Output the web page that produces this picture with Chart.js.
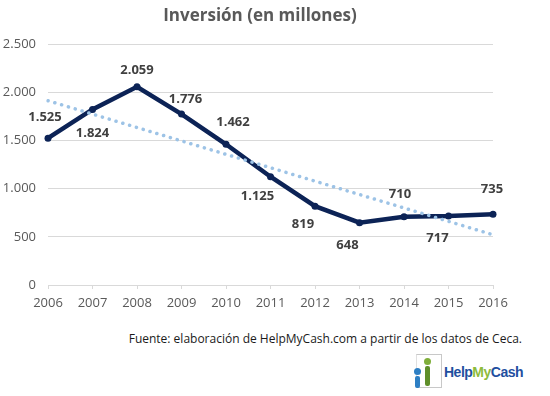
<!DOCTYPE html>
<html>
<head>
<meta charset="utf-8">
<script src="https://cdn.jsdelivr.net/npm/chart.js@4"></script>
<style>
  body { margin: 0; background: #fff; width: 550px; height: 396px; position: relative; overflow: hidden; }
  #wrap { position: absolute; left: 0; top: 0; width: 520px; height: 320px; }
  #footer { position: absolute; right: 28px; top: 330px; font: 12px "Open Sans", sans-serif; color: #1a1a1a; white-space: nowrap; }
  #logo { position: absolute; left: 414px; top: 354px; width: 115px; height: 36px; }
  #logo .box { position: absolute; left: 2px; top: 0; width: 24px; height: 32px; border: 1px solid #c8c8c8; border-left-color: #e0e0e0; }
  #logo .p1 { position: absolute; left: 0; top: 14px; width: 7px; height: 7px; border-radius: 50%; background: #2d7fc4; }
  #logo .b1 { position: absolute; left: 1px; top: 22px; width: 5px; height: 12px; background: #2d7fc4; border-radius: 2px; }
  #logo .p2 { position: absolute; left: 10px; top: 4px; width: 7px; height: 7px; border-radius: 50%; background: #7fae3a; }
  #logo .b2 { position: absolute; left: 11px; top: 12px; width: 5px; height: 20px; background: #5f8f2a; border-radius: 2px; }
  #logo .txt { position: absolute; left: 30px; top: 10px; font: bold 14px "Liberation Sans", Arial, sans-serif; letter-spacing: -0.5px; color: #1f4f9f; }
  #logo .txt span { color: #8dbb3c; }
</style>
</head>
<body>
<div id="wrap"><canvas id="investChart"></canvas></div>
<div id="footer">Fuente: elaboración de HelpMyCash.com a partir de los datos de Ceca.</div>
<div id="logo">
  <div class="box"></div>
  <div class="p2"></div><div class="b2"></div>
  <div class="p1"></div><div class="b1"></div>
  <div class="txt">Help<span>My</span>Cash</div>
</div>
<script>
// Data
const years = ['2006', '2007', '2008', '2009', '2010', '2011', '2012', '2013', '2014', '2015', '2016'];
const investment = [1525, 1824, 2059, 1776, 1462, 1125, 819, 648, 710, 717, 735];
// linear trend line: only its end points
const trend = [1915, null, null, null, null, null, null, null, null, null, 522];
const yTicks = [0, 500, 1000, 1500, 2000, 2500];

// label offsets (px) from each point, like the Excel label placement
const labelOffsets = [
  [-3, -21], [0, 24], [0, -17], [4, -15], [7, -22], [-13, 20],
  [-12, 18], [-12, 23], [-4, -22], [-11, 22], [-1, -25]
];

const fmt = v => v.toLocaleString('de-DE');

const valueLabels = {
  id: 'valueLabels',
  afterDatasetsDraw(chart) {
    const ctx = chart.ctx;
    const meta = chart.getDatasetMeta(1);
    ctx.save();
    ctx.font = 'bold 13px "Open Sans", sans-serif';
    ctx.fillStyle = '#404040';
    ctx.textAlign = 'center';
    ctx.textBaseline = 'middle';
    meta.data.forEach((pt, i) => {
      ctx.fillText(fmt(investment[i]), pt.x + labelOffsets[i][0], pt.y + labelOffsets[i][1]);
    });
    ctx.restore();
  }
};

const ctx = document.getElementById('investChart').getContext('2d');
const investChart = new Chart(ctx, {
  type: 'line',
  data: {
    labels: years,
    datasets: [{
      label: 'Tendencia',
      data: trend,
      spanGaps: true,
      borderColor: '#9dc3e6',
      borderWidth: 3.5,
      borderDash: [0.1, 7],
      borderCapStyle: 'round',
      pointRadius: 0,
      fill: false
    }, {
      label: 'Inversión',
      data: investment,
      borderColor: '#0c2356',
      backgroundColor: '#0c2356',
      borderWidth: 4.5,
      pointRadius: 3.5,
      pointBorderWidth: 0,
      tension: 0,
      fill: false
    }]
  },
  options: {
    responsive: true,
    maintainAspectRatio: false,
    animation: false,
    layout: {
      padding: 0
    },
    scales: {
      x: {
        afterFit: s => { s.height = 35; },
        grid: { drawOnChartArea: false, color: '#d9d9d9', tickLength: 4 },
        border: { color: '#d9d9d9' },
        ticks: { color: '#595959', font: { family: 'Open Sans', size: 13 }, padding: 6, maxRotation: 0 }
      },
      y: {
        min: 0,
        max: 2500,
        afterFit: s => { s.width = 48; },
        afterBuildTicks: s => { s.ticks = yTicks.map(v => ({ value: v })); },
        grid: { color: '#d9d9d9', drawTicks: false },
        border: { display: false },
        ticks: { color: '#595959', font: { family: 'Open Sans', size: 13 }, padding: 12, callback: v => fmt(v) }
      },
      // empty right axis, only keeps space on the right of the plot
      yRight: {
        position: 'right',
        afterFit: s => { s.width = 27; },
        grid: { display: false },
        border: { display: false },
        ticks: { display: false }
      }
    },
    plugins: {
      legend: { display: false },
      tooltip: { enabled: false },
      title: {
        display: true,
        text: 'Inversión (en millones)',
        color: '#595959',
        font: { family: 'Open Sans', size: 17, weight: 'bold' },
        padding: { top: 6, bottom: 18 }
      }
    }
  },
  plugins: [valueLabels]
});
</script>
</body>
</html>
